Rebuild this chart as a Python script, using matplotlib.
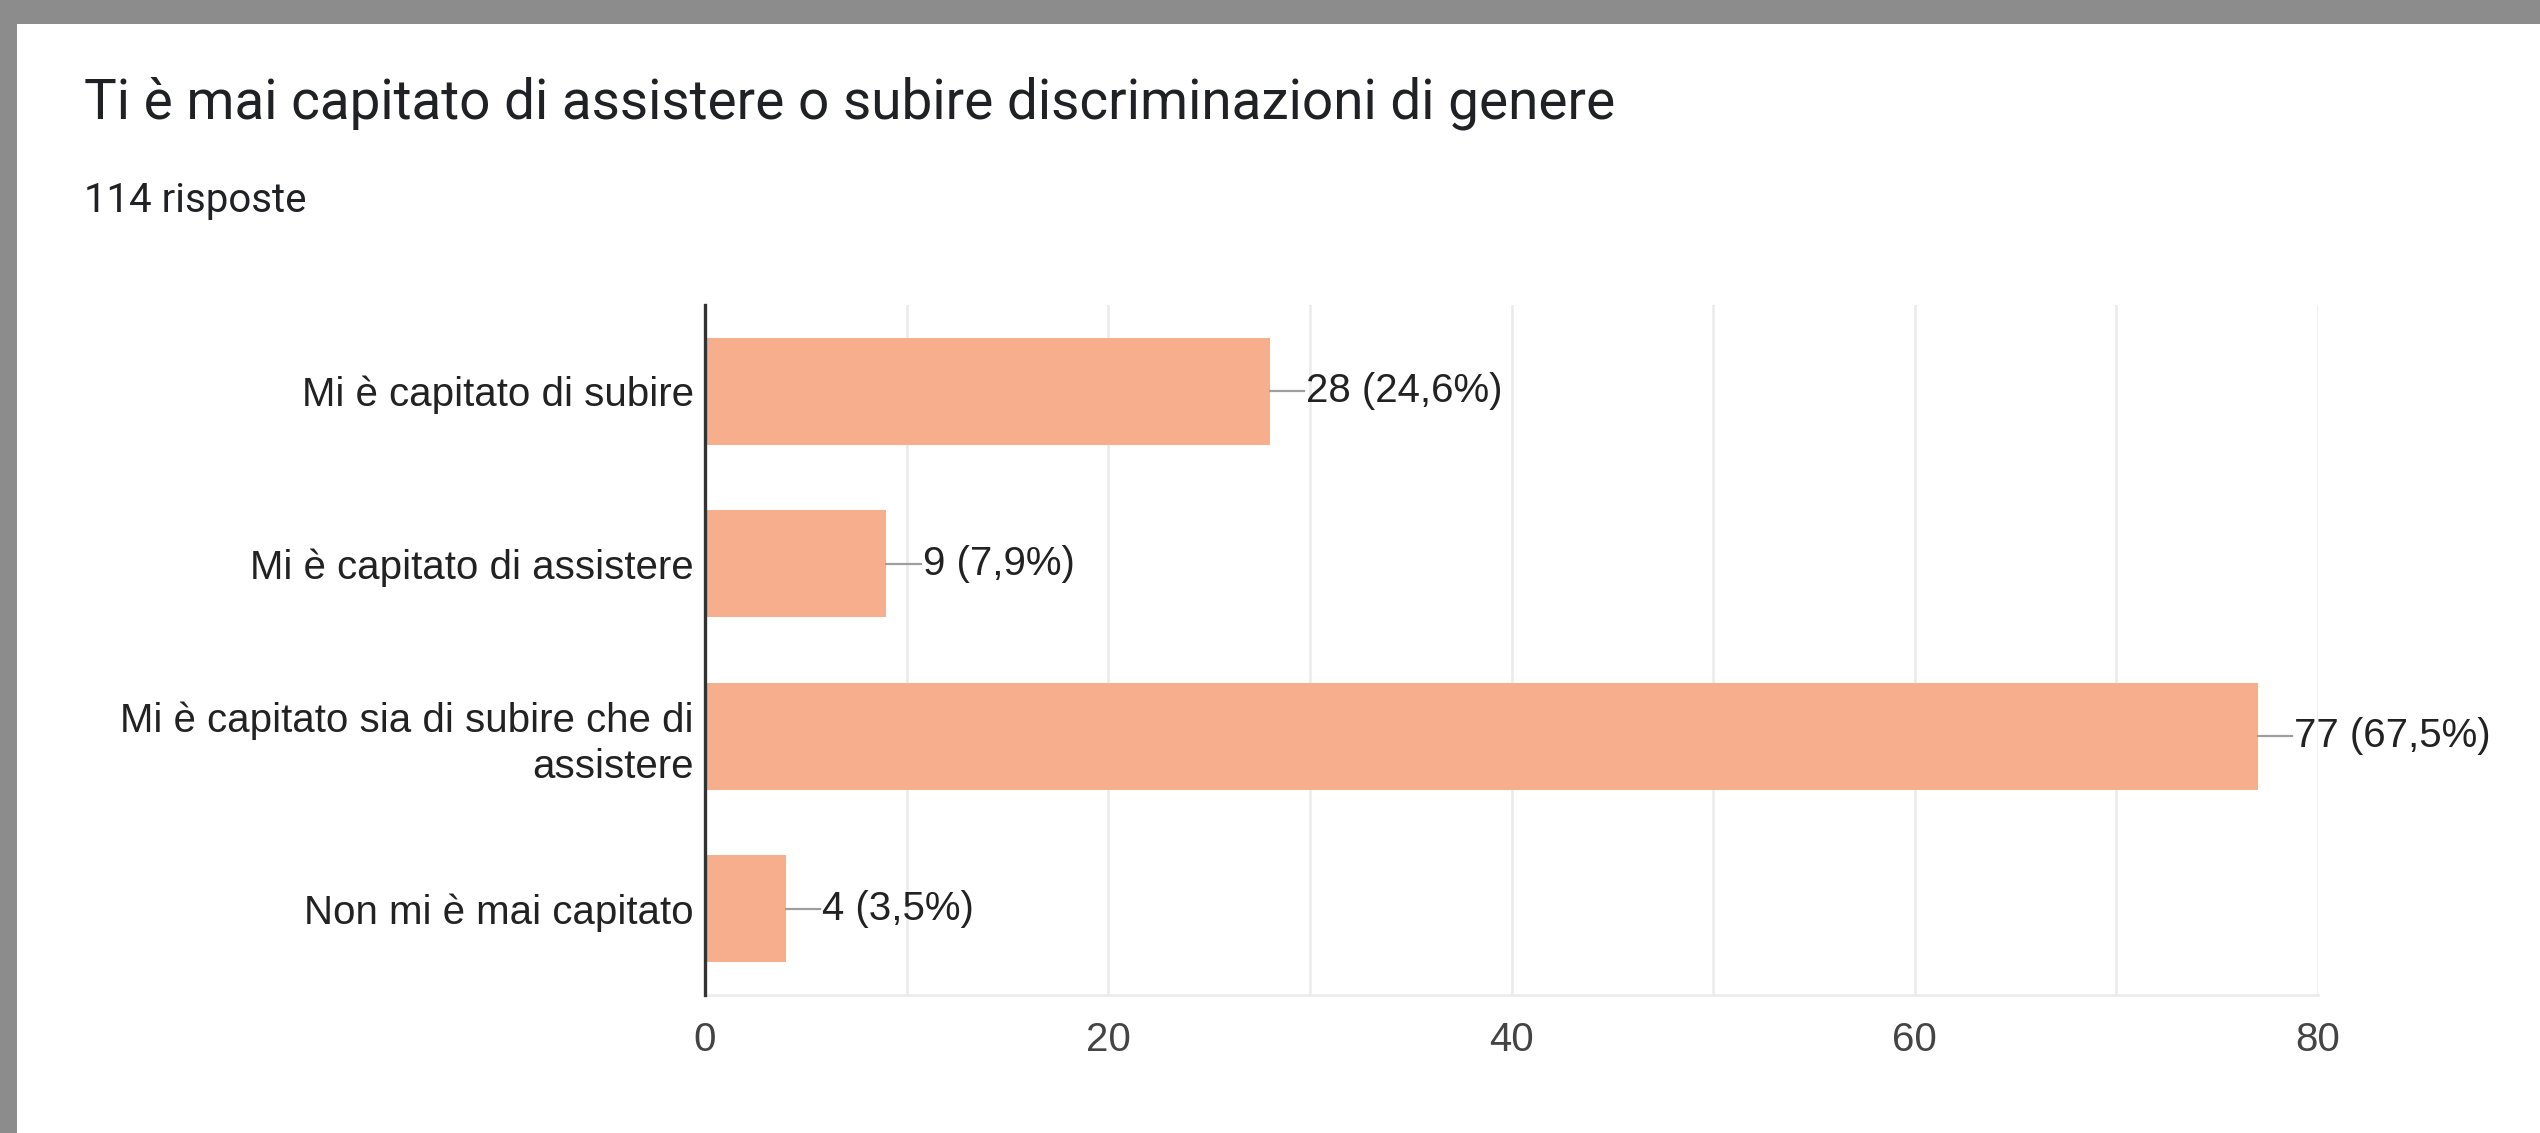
import matplotlib
matplotlib.use("Agg")
import matplotlib.pyplot as plt
from matplotlib.patches import Rectangle

title = "Ti è mai capitato di assistere o subire discriminazioni di genere"
subtitle = "114 risposte"
categories = ["Mi è capitato di subire", "Mi è capitato di assistere",
              "Mi è capitato sia di subire che di\nassistere", "Non mi è mai capitato"]
values = [28, 9, 77, 4]
percents = ["24,6%", "7,9%", "67,5%", "3,5%"]
xticks = [0, 20, 40, 60, 80]

W, H = 2540, 1133
fig = plt.figure(figsize=(W / 100, H / 100), dpi=100)
fig.patch.set_facecolor("#8c8c8c")
fig.patches.append(Rectangle((17 / W, 0), 1, 1 - 24 / H, transform=fig.transFigure,
                             facecolor="white", edgecolor="none", zorder=-10))

fig.text(84 / W, 1 - 119 / H, title, fontsize=39.5, family="Roboto", color="#202124", va="baseline")
fig.text(84 / W, 1 - 212 / H, subtitle, fontsize=29, family="Roboto", color="#202124", va="baseline")

ax = fig.add_axes([705 / W, 1 - 995 / H, (2318 - 705) / W, (995 - 305) / H])
ax.set_zorder(5)
ax.set_facecolor("none")
ypos = list(range(len(categories)))
ax.barh(ypos, values, height=0.62, color="#f7ae8c", zorder=2)
ax.set_xlim(0, 80)
ax.set_ylim(3.5, -0.5)
ax.set_xticks(range(0, 81, 10))
ax.set_xticklabels([str(t) if t in xticks else "" for t in range(0, 81, 10)])
ax.grid(axis="x", color="#ebebeb", linewidth=1.8, zorder=0)
for s in ["top", "right"]:
    ax.spines[s].set_visible(False)
ax.spines["bottom"].set_color("#ebebeb")
ax.spines["bottom"].set_linewidth(1.8)
ax.spines["left"].set_color("#333333")
ax.spines["left"].set_linewidth(2.4)
ax.spines["left"].set_zorder(6)
ax.tick_params(axis="x", length=0, pad=19, labelsize=29, labelcolor="#444444")
ax.tick_params(axis="y", length=0, pad=8, labelsize=29, labelcolor="#222222")
ax.set_yticks(ypos)
ax.set_yticklabels(categories, family="Liberation Sans", ha="right", multialignment="right",
                   linespacing=1.25)
for lbl in ax.get_xticklabels():
    lbl.set_family("Liberation Sans")

for y, v, p in zip(ypos, values, percents):
    ax.plot([v, v + 1.7], [y, y], color="#9e9e9e", linewidth=1.6, zorder=3, clip_on=False)
    ax.text(v + 1.8, y, f"{v} ({p})", va="center", ha="left", fontsize=29,
            family="Liberation Sans", color="#222222", zorder=4, clip_on=False)

fig.savefig("out.png", dpi=100, facecolor=fig.get_facecolor())
